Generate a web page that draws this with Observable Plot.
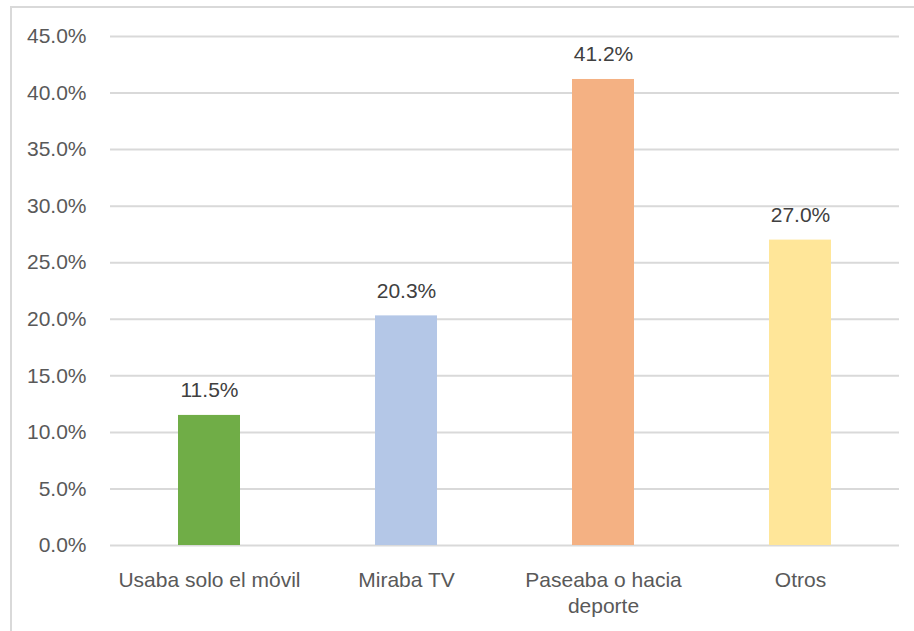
<!DOCTYPE html>
<html>
<head>
<meta charset="utf-8">
<script src="https://cdn.jsdelivr.net/npm/d3@7"></script>
<script src="https://cdn.jsdelivr.net/npm/@observablehq/plot@0.6"></script>
<style>
  html, body { margin: 0; padding: 0; background: #fff; }
  #wrap { position: relative; width: 914px; height: 631px; overflow: hidden; }
  #frame { position: absolute; left: 10px; top: 6px; width: 920px; height: 640px;
           border-top: 2px solid #D9D9D9; border-left: 2px solid #D9D9D9; box-sizing: border-box; pointer-events: none; }
  #chart { position: absolute; left: 0; top: 0; }
</style>
</head>
<body>
<div id="wrap">
  <div id="chart"></div>
  <div id="frame"></div>
</div>
<script>
const categories = ["Usaba solo el móvil", "Miraba TV", "Paseaba o hacia deporte", "Otros"];
const tickLabels = ["Usaba solo el móvil", "Miraba TV", "Paseaba o hacia\ndeporte", "Otros"];
const values = [11.5, 20.3, 41.2, 27.0];
const colors = ["#70AD47", "#B4C7E7", "#F4B183", "#FFE699"];
const yTicks = [0, 5, 10, 15, 20, 25, 30, 35, 40, 45];

const data = categories.map((c, i) => ({category: c, value: values[i], color: colors[i]}));
const labelOf = new Map(categories.map((c, i) => [c, tickLabels[i]]));

const chart = Plot.plot({
  width: 914,
  height: 631,
  marginLeft: 110,
  marginRight: 15,
  marginTop: 36,
  marginBottom: 86,
  style: {fontFamily: "'Liberation Sans', Arial, sans-serif", fontSize: "21px", color: "#595959", background: "transparent"},
  x: {domain: categories, paddingInner: 0.686, paddingOuter: 0.343, label: null},
  y: {domain: [0, 45], label: null},
  marks: [
    Plot.gridY(yTicks, {stroke: "#D9D9D9", strokeOpacity: 1, strokeWidth: 2}),
    Plot.barY(data, {x: "category", y: "value", fill: "color"}),
    Plot.text(data, {x: "category", y: "value", text: d => d.value.toFixed(1) + "%", dy: -25, fill: "#404040", fontSize: 21}),
    Plot.axisY(yTicks, {tickSize: 0, tickPadding: 24, tickFormat: d => d.toFixed(1) + "%", fill: "#595959", label: null}),
    Plot.axisX({tickSize: 0, tickPadding: 24, tickFormat: d => labelOf.get(d), lineHeight: 1.2, fill: "#595959", label: null})
  ]
});
document.getElementById("chart").appendChild(chart);
</script>
</body>
</html>
